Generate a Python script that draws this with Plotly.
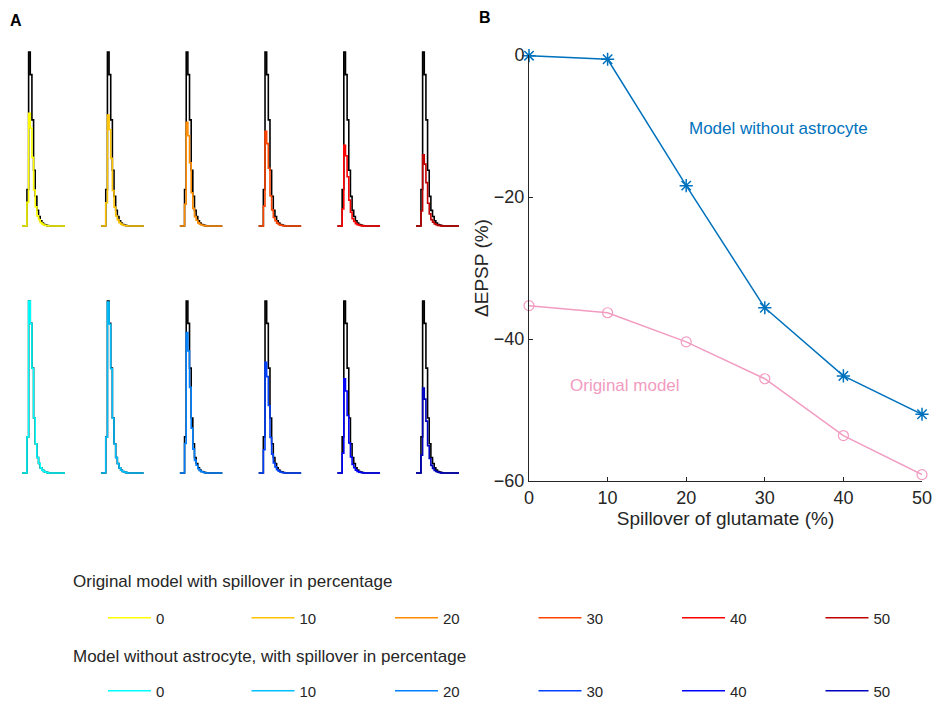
import plotly.graph_objects as go

# ---------------------------------------------------------------- data
SPILLOVER = [0, 10, 20, 30, 40, 50]                      # % glutamate spillover
DELTA_ORIGINAL = [-35.3, -36.3, -40.4, -45.6, -53.6, -59.1]  # ΔEPSP (%), original model
DELTA_NO_ASTRO = [-0.1, -0.6, -18.4, -35.6, -45.2, -50.6]    # ΔEPSP (%), model without astrocyte

# normalised control EPSP waveform (black), sampled in time steps
EPSP_T = list(range(27))
EPSP_CONTROL = [0, 0, 0, 0.21, 1.0, 0.87, 0.61, 0.32, 0.17, 0.09, 0.055, 0.03,
                0.017, 0.009, 0.005, 0.002, 0, 0, 0, 0, 0, 0, 0, 0, 0, 0, 0]

COLORS_ORIGINAL = ["#FFFF00", "#FFC400", "#FF8C00", "#FF4500", "#FF0000", "#C00000"]
COLORS_NO_ASTRO = ["#00FFFF", "#00BFFF", "#0080FF", "#0040FF", "#0000FF", "#0000C0"]

BLUE = "#0072BD"
PINK = "#F29BC1"
TXT = "#262626"
FONT = "Liberation Sans, Arial, sans-serif"

W, H = 933, 705


def px(x):
    return x / W


def py(y):
    return 1 - y / H


fig = go.Figure()
layout = dict(
    width=W, height=H, margin=dict(l=0, r=0, t=0, b=0, pad=0, autoexpand=False),
    paper_bgcolor="white", plot_bgcolor="white",
    font=dict(family=FONT, color=TXT),
    showlegend=True,
)

# ---------------------------------------------------------- panel A grid
rows = [  # (deltas, colours, legend, baseline px, peak px)
    (DELTA_ORIGINAL, COLORS_ORIGINAL, "legend", 226, 52),
    (DELTA_NO_ASTRO, COLORS_NO_ASTRO, "legend2", 473, 301),
]
PAD = 0.03
ax = 0
for deltas, colors, leg, base, peak in rows:
    h = base - peak
    for i, (sp, d, c) in enumerate(zip(SPILLOVER, deltas, colors)):
        ax += 1
        left = 22 + i * 78.8
        xa, ya = ("xaxis%d" % ax, "yaxis%d" % ax)
        layout[xa] = dict(domain=[px(left), px(left + 43)], range=[0, EPSP_T[-1]],
                          visible=False, anchor="y%d" % ax)
        layout[ya] = dict(domain=[py(base + PAD * h), py(peak - PAD * h)],
                          range=[-PAD, 1 + PAD], visible=False, anchor="x%d" % ax)
        scale = 1 + d / 100.0
        fig.add_trace(go.Scatter(
            x=EPSP_T, y=EPSP_CONTROL, mode="lines", line=dict(color="black", width=1.6, shape="hv"),
            xaxis="x%d" % ax, yaxis="y%d" % ax, showlegend=False, hoverinfo="skip"))
        fig.add_trace(go.Scatter(
            x=EPSP_T, y=[v * scale for v in EPSP_CONTROL], mode="lines",
            line=dict(color=c, width=1.6, shape="hv"), name=str(sp),
            xaxis="x%d" % ax, yaxis="y%d" % ax, legend=leg, showlegend=True))

# ------------------------------------------------------------- panel B
axB = ax + 1
layout["xaxis%d" % axB] = dict(
    domain=[px(529), px(922)], range=[0, 50], anchor="y%d" % axB,
    tickvals=SPILLOVER, ticks="inside", ticklen=4, tickcolor=TXT,
    showline=True, linecolor=TXT, linewidth=1, showgrid=False, zeroline=False,
    tickfont=dict(size=18, color=TXT), automargin=False,
    title=dict(text="Spillover of glutamate (%)", font=dict(size=19, color=TXT), standoff=2),
)
layout["yaxis%d" % axB] = dict(
    domain=[py(481), py(55)], range=[-60, 0], anchor="x%d" % axB,
    tickvals=[0, -20, -40, -60], ticks="inside", ticklen=4, tickcolor=TXT,
    showline=True, linecolor=TXT, linewidth=1, showgrid=False, zeroline=False,
    tickfont=dict(size=18, color=TXT), automargin=False,
    title=dict(text="ΔEPSP (%)", font=dict(size=19, color=TXT), standoff=0),
)
fig.add_trace(go.Scatter(
    x=SPILLOVER, y=DELTA_NO_ASTRO, mode="lines+markers",
    line=dict(color=BLUE, width=1.5),
    marker=dict(symbol="asterisk-open", size=11, line=dict(color=BLUE, width=1.5)),
    xaxis="x%d" % axB, yaxis="y%d" % axB, showlegend=False, cliponaxis=False))
fig.add_trace(go.Scatter(
    x=SPILLOVER, y=DELTA_ORIGINAL, mode="lines+markers",
    line=dict(color=PINK, width=1.5),
    marker=dict(symbol="circle-open", size=10, line=dict(color=PINK, width=1.2)),
    xaxis="x%d" % axB, yaxis="y%d" % axB, showlegend=False, cliponaxis=False))

# ------------------------------------------------------------ legends
leg_common = dict(
    orientation="h", xanchor="left", yanchor="middle",
    entrywidth=85.5, entrywidthmode="pixels", itemwidth=43,
    font=dict(size=15, color=TXT), bgcolor="rgba(0,0,0,0)",
    itemclick=False, itemdoubleclick=False,
)
layout["legend"] = dict(leg_common, x=px(103), y=py(618))
layout["legend2"] = dict(leg_common, x=px(103), y=py(691))

layout["annotations"] = [
    dict(text="<b>A</b>", x=px(16), y=py(20), xref="paper", yref="paper",
         showarrow=False, font=dict(size=16, color="black"), xanchor="center", yanchor="middle"),
    dict(text="<b>B</b>", x=px(485), y=py(17), xref="paper", yref="paper",
         showarrow=False, font=dict(size=16, color="black"), xanchor="center", yanchor="middle"),
    dict(text="Model without astrocyte", x=20.1, y=-10.4, xref="x%d" % axB, yref="y%d" % axB,
         showarrow=False, font=dict(size=17, color=BLUE), xanchor="left", yanchor="middle"),
    dict(text="Original model", x=5.0, y=-46.5, xref="x%d" % axB, yref="y%d" % axB,
         showarrow=False, font=dict(size=17, color=PINK), xanchor="left", yanchor="middle"),
    dict(text="Original model with spillover in percentage", x=px(71), y=py(581),
         xref="paper", yref="paper", showarrow=False, font=dict(size=17, color=TXT),
         xanchor="left", yanchor="middle"),
    dict(text="Model without astrocyte, with spillover in percentage", x=px(71), y=py(656),
         xref="paper", yref="paper", showarrow=False, font=dict(size=17, color=TXT),
         xanchor="left", yanchor="middle"),
]

fig.update_layout(layout)
fig.write_html("out.html")
